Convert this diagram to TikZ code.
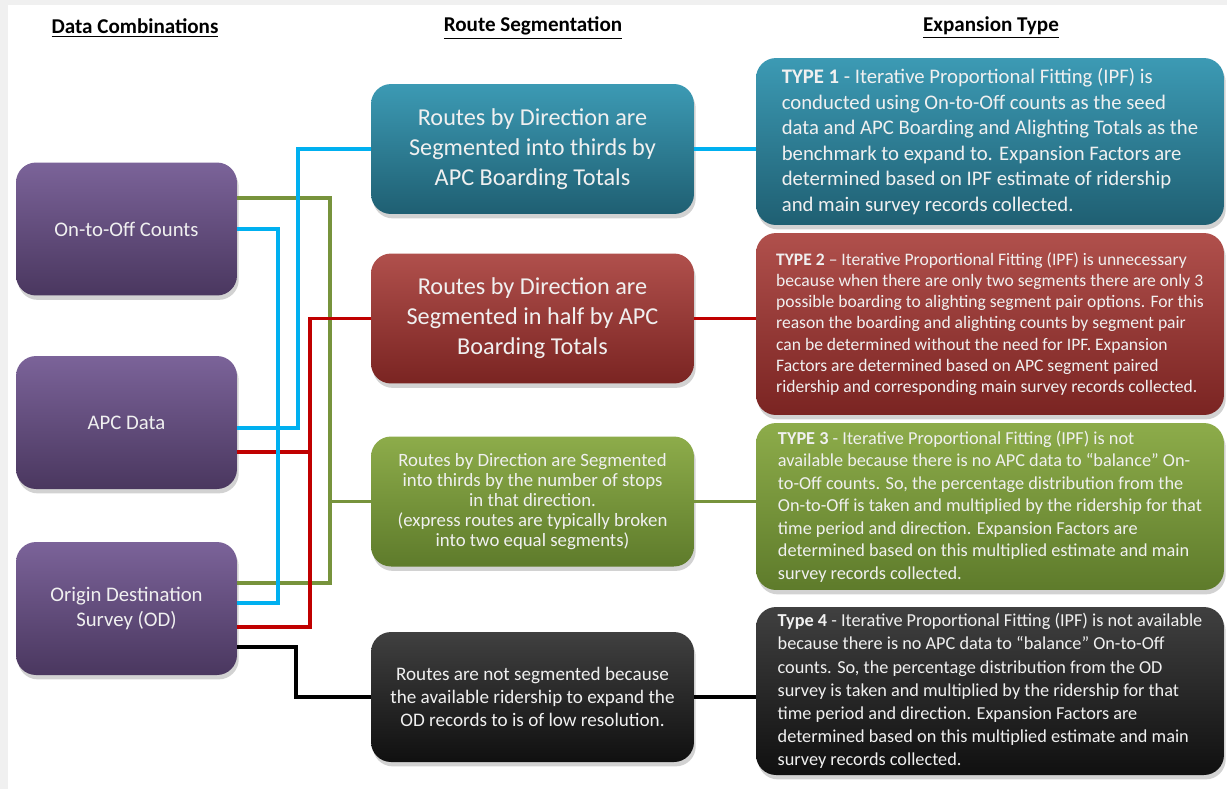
\documentclass[tikz,border=0pt]{standalone}
\usepackage{fontspec}
\setmainfont{Carlito}
\usetikzlibrary{shadows}

\definecolor{plumtop}{HTML}{7B6399}
\definecolor{plumbot}{HTML}{4A375F}
\definecolor{tealtop}{HTML}{3C9AB4}
\definecolor{tealbot}{HTML}{1F5F72}
\definecolor{bricktop}{HTML}{B0504C}
\definecolor{brickbot}{HTML}{7A2422}
\definecolor{olivetop}{HTML}{8DAC4A}
\definecolor{olivebot}{HTML}{5E7B2B}
\definecolor{coaltop}{HTML}{404040}
\definecolor{coalbot}{HTML}{101010}
\definecolor{cyanwire}{HTML}{00B0F0}
\definecolor{greenwire}{HTML}{77933C}
\definecolor{redwire}{HTML}{C00000}

\begin{document}
\begin{tikzpicture}[x=0.02cm, y=-0.02cm,
  box/.style={rounded corners=0.4cm, text=white!94!black,
    drop shadow={opacity=0.35, shadow xshift=1pt, shadow yshift=-2.5pt}},
  srcbox/.style={box, top color=plumtop, bottom color=plumbot, align=center,
    minimum width=4.42cm, minimum height=2.66cm, font=\fontsize{11.8}{14}\selectfont},
  segbox/.style={box, align=center, minimum width=6.46cm, minimum height=2.6cm},
  typebox/.style={box, align=left, minimum width=9.36cm},
  head/.style={font=\bfseries\fontsize{12}{14}\selectfont},
  wire/.style={line width=2.2pt}]

  % page edge
  \fill[black!6] (0,0) rectangle (1227,789);
  \fill[white] (8,5) rectangle (1227,789);
  \useasboundingbox (0,0) rectangle (1227,789);

  % column titles
  \node (h1) [head] at (135,28) {\underline{Data Combinations}};
  \node (h2) [head] at (533,28) {\underline{Route Segmentation}};
  \node (h3) [head] at (991,28) {\underline{Expansion Type}};

  % data sources
  \node (onoff) [srcbox] at (126.5,229) {On-to-Off Counts};
  \node (apc) [srcbox] at (126.5,422.5) {APC Data};
  \node (od) [srcbox] at (126.5,608.5) {Origin Destination\\Survey (OD)};

  % segmentation
  \node (seg1) [segbox, top color=tealtop, bottom color=tealbot,
    font=\fontsize{13.8}{17}\selectfont] at (532.5,149)
    {Routes by Direction are\\Segmented into thirds by\\APC Boarding Totals};
  \node (seg2) [segbox, top color=bricktop, bottom color=brickbot,
    font=\fontsize{13.8}{17}\selectfont] at (532.5,318.5)
    {Routes by Direction are\\Segmented in half by APC\\Boarding Totals};
  \node (seg3) [segbox, top color=olivetop, bottom color=olivebot,
    font=\fontsize{10.7}{11.5}\selectfont] at (532.5,501.5)
    {Routes by Direction are Segmented\\into thirds by the number of stops\\in that direction.\\(express routes are typically broken\\into two equal segments)};
  \node (seg4) [segbox, top color=coaltop, bottom color=coalbot,
    font=\fontsize{10.9}{13}\selectfont] at (532.5,697)
    {Routes are not segmented because\\the available ridership to expand the\\OD records to is of low resolution.};

  % expansion types
  \node (type1) [typebox, top color=tealtop, bottom color=tealbot, minimum height=3.34cm,
    font=\fontsize{11.8}{14.5}\selectfont] at (990,141.5)
    {\textbf{TYPE 1} - Iterative Proportional Fitting (IPF) is\\
     conducted using On-to-Off counts as the seed\\
     data and APC Boarding and Alighting Totals as the\\
     benchmark to expand to.  Expansion Factors are\\
     determined based on IPF estimate of ridership\\
     and main survey records collected.};
  \node (type2) [typebox, top color=bricktop, bottom color=brickbot, minimum height=3.64cm,
    font=\fontsize{10}{12}\selectfont] at (990,324)
    {\textbf{TYPE 2} – Iterative Proportional Fitting (IPF) is unnecessary\\
     because when there are only two segments there are only 3\\
     possible boarding to alighting segment pair options. For this\\
     reason the boarding and alighting counts by segment pair\\
     can be determined without the need for IPF. Expansion\\
     Factors are determined based on APC segment paired\\
     ridership and corresponding main survey records collected.};
  \node (type3) [typebox, top color=olivetop, bottom color=olivebot, minimum height=3.34cm,
    font=\fontsize{10.4}{12.8}\selectfont] at (990,506.5)
    {\textbf{TYPE 3} - Iterative Proportional Fitting (IPF) is not\\
     available because there is no APC data to “balance” On-\\
     to-Off counts. So, the percentage distribution from the\\
     On-to-Off is taken and multiplied by the ridership for that\\
     time period and direction. Expansion Factors are\\
     determined based on this multiplied estimate and main\\
     survey records collected.};
  \node (type4) [typebox, top color=coaltop, bottom color=coalbot, minimum height=3.36cm,
    font=\fontsize{10.4}{13.2}\selectfont] at (990,691)
    {\textbf{Type 4} - Iterative Proportional Fitting (IPF) is not available\\
     because there is no APC data to “balance” On-to-Off\\
     counts.  So, the percentage distribution from the OD\\
     survey is taken and multiplied by the ridership for that\\
     time period and direction.  Expansion Factors are\\
     determined based on this multiplied estimate and main\\
     survey records collected.};

  % source to segmentation wiring
  \draw[wire, greenwire] (onoff.east |- 0,198) -| (330,583) -- (od.east |- 0,583);
  \draw[wire, greenwire] (seg3.west -| 330,0) -- (seg3.west);
  \draw[wire, redwire] (seg2.west) -| (310,627) -- (od.east |- 0,627);
  \draw[wire, redwire] (apc.east |- 0,452) -- (310,452);
  \draw[wire, black] (od.east |- 0,647) -| (296,697) -- (seg4.west);
  \draw[wire, cyanwire] (onoff.east) -| (278,603) -- (od.east |- 0,603);
  \draw[wire, cyanwire] (apc.east |- 0,428) -| (298,149) -- (seg1.west);

  % segmentation to expansion type
  \draw[wire, cyanwire] (seg1.east) -- (type1.west |- seg1.east);
  \draw[wire, redwire] (seg2.east) -- (type2.west |- seg2.east);
  \draw[wire, greenwire] (seg3.east) -- (type3.west |- seg3.east);
  \draw[wire, black] (seg4.east) -- (type4.west |- seg4.east);
\end{tikzpicture}
\end{document}
